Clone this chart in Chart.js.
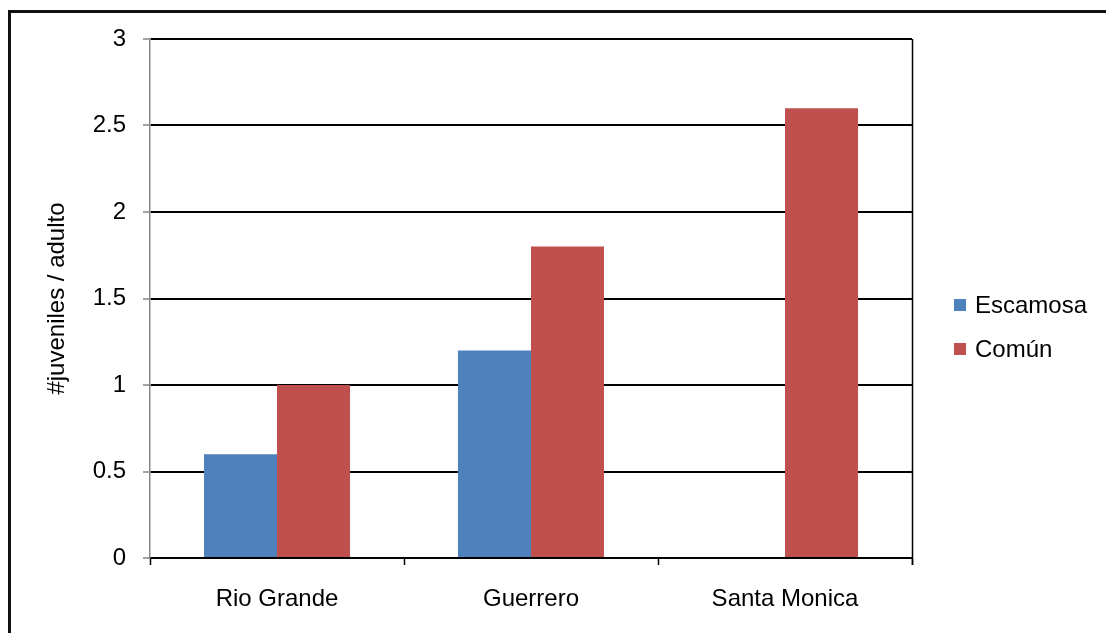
<!DOCTYPE html>
<html>
<head>
<meta charset="utf-8">
<script src="https://cdn.jsdelivr.net/npm/chart.js@4/dist/chart.umd.min.js"></script>
<style>
  html, body { margin: 0; padding: 0; background: #fff; }
  #wrap { width: 1106px; height: 633px; position: relative; }
</style>
</head>
<body>
<div id="wrap"><canvas id="c" width="1106" height="633"></canvas></div>
<script>
// Sites and ratios of juveniles per adult
const sites = ['Rio Grande', 'Guerrero', 'Santa Monica'];
const escamosa = [0.6, 1.2, 0];
const comun = [1.0, 1.8, 2.6];
const seriesNames = ['Escamosa', 'Común'];
const yTicks = [0, 0.5, 1, 1.5, 2, 2.5, 3];
const yTitle = '#juveniles / adulto';

const BLUE = '#4F81BD';
const RED = '#C0504D';
const FONT = "Arial, 'Liberation Sans', sans-serif";

// Outer frame, right edge of the plot and a side legend
const decor = {
  id: 'decor',
  beforeDraw(chart) {
    const ctx = chart.ctx;
    ctx.save();
    ctx.fillStyle = '#fff';
    ctx.fillRect(0, 0, chart.width, chart.height);
    ctx.fillStyle = '#111';
    ctx.fillRect(8, 10, 3, chart.height - 10);
    ctx.fillRect(8, 10, chart.width - 8, 3);
    ctx.restore();
  },
  afterDraw(chart) {
    const ctx = chart.ctx;
    const a = chart.chartArea;
    ctx.save();
    ctx.strokeStyle = '#000';
    ctx.lineWidth = 1.5;
    ctx.beginPath();
    ctx.moveTo(a.right + 0.5, a.top);
    ctx.lineTo(a.right + 0.5, a.bottom + 7);
    ctx.stroke();

    const lx = a.right + 42;
    const rows = [305, 349];
    ctx.font = '24px ' + FONT;
    ctx.textBaseline = 'middle';
    ctx.textAlign = 'left';
    chart.data.datasets.forEach((ds, i) => {
      ctx.fillStyle = ds.backgroundColor;
      ctx.fillRect(lx, rows[i] - 6, 12, 12);
      ctx.fillStyle = '#000';
      ctx.fillText(ds.label, lx + 21, rows[i] + 1);
    });
    ctx.restore();
  }
};

new Chart(document.getElementById('c'), {
  type: 'bar',
  data: {
    labels: sites,
    datasets: [
      { label: seriesNames[0], data: escamosa, backgroundColor: BLUE, borderWidth: 0 },
      { label: seriesNames[1], data: comun, backgroundColor: RED, borderWidth: 0 }
    ]
  },
  options: {
    responsive: false,
    animation: false,
    devicePixelRatio: 1,
    layout: { padding: { left: 0, top: 39, right: 194, bottom: 0 } },
    datasets: { bar: { barPercentage: 1.0, categoryPercentage: 0.575 } },
    plugins: {
      legend: { display: false },
      tooltip: { enabled: false }
    },
    scales: {
      x: {
        offset: true,
        grid: {
          offset: true,
          drawOnChartArea: false,
          drawTicks: true,
          tickLength: 7,
          color: '#000',
          tickColor: '#000',
          tickWidth: 1.5
        },
        border: { display: true, color: '#000', width: 2 },
        ticks: {
          color: '#000',
          padding: 20,
          font: { family: FONT, size: 24 },
          maxRotation: 0
        },
        afterFit(scale) { scale.height = 75; }
      },
      y: {
        min: 0,
        max: 3,
        afterBuildTicks(scale) { scale.ticks = yTicks.map(v => ({ value: v })); },
        grid: {
          color: '#000',
          lineWidth: 2,
          drawTicks: true,
          tickLength: 7,
          tickColor: '#868686',
          tickWidth: 1.5
        },
        border: { display: true, color: '#868686', width: 1.5 },
        ticks: {
          color: '#000',
          padding: 17,
          font: { family: FONT, size: 24 },
          callback: v => String(v)
        },
        title: {
          display: true,
          text: yTitle,
          color: '#000',
          font: { family: FONT, size: 24 },
          padding: { top: 43, bottom: 0 }
        },
        afterFit(scale) { scale.width = 150; }
      }
    }
  },
  plugins: [decor]
});
</script>
</body>
</html>
